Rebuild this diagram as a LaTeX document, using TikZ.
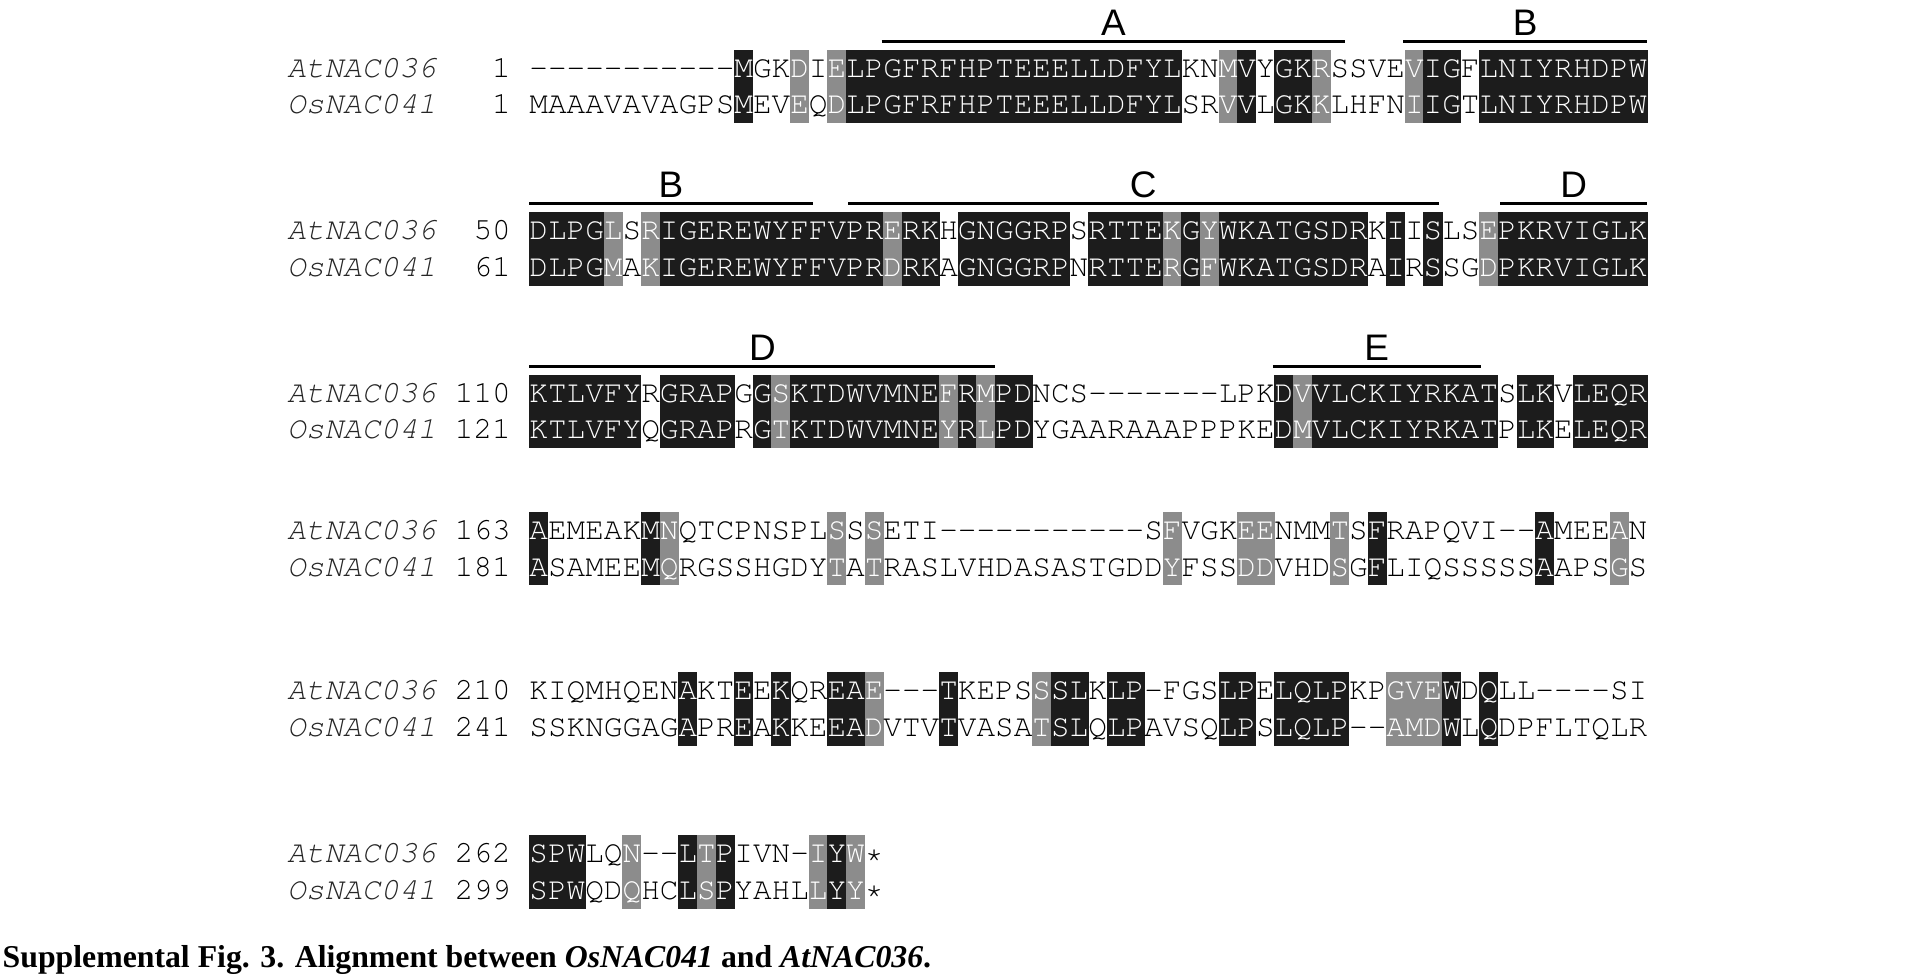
\documentclass[tikz,border=0pt]{standalone}
\usepackage[T1]{fontenc}
\usepackage{fontspec}
\newfontfamily\letterfont{Liberation Sans}
\newfontfamily\captionfont{Liberation Serif}
\newcommand\courierfont{\fontencoding{T1}\fontfamily{pcr}\fontseries{m}\fontshape{n}\fontsize{25.2}{25.2}\selectfont}
\newcommand\courieritfont{\fontencoding{T1}\fontfamily{pcr}\fontseries{m}\fontshape{sl}\fontsize{25.2}{25.2}\selectfont}
\definecolor{boxblack}{HTML}{1C1C1C}
\definecolor{boxgray}{HTML}{8C8C8C}
\tikzset{
  res/.style={inner sep=0pt, anchor=base, font=\courierfont},
  seqname/.style={inner sep=0pt, anchor=base, font=\courieritfont, text=black!85},
  blackbox/.style={fill=boxblack},
  graybox/.style={fill=boxgray},
  regionbar/.style={line width=2.4pt, black},
  regionlabel/.style={inner sep=0pt, anchor=base, font=\letterfont\fontsize{30}{30}\selectfont},
  captiontext/.style={inner sep=0pt, anchor=base west, font=\captionfont\bfseries\fontsize{25.8}{25.8}\selectfont},
}
\newcount\ci
\newcount\blk
\def\cw{15.13}
\def\xseq{430}
\def\xname{233.31}
% residues with colour from the shading string
\def\seqtext#1#2#3#4#5{\def\stP{#1}\def\stX{#2}\def\stY{#3}\ci=0 \seqtextloop#4\sqend#5\sqend}
\def\seqtextloop#1#2\sqend#3#4\sqend{%
  \if#3.\def\stC{black}\else\def\stC{white}\fi
  \node[res,text=\stC] (\stP-\the\ci) at ({\stX+(\the\ci+0.5)*\cw},\stY) {#1};%
  \advance\ci by 1
  \ifx\relax#2\relax\else\seqtextloop#2\sqend#4\sqend\fi}
% plain strings (names, numbers); ! = empty column
\def\plaintext#1#2#3#4#5{\tikzset{plainsty/.style={#2}}\def\ptP{#1}\def\ptX{#3}\def\ptY{#4}\ci=0 \plainloop#5\sqend}
\def\plainloop#1#2\sqend{%
  \if#1!\else\node[plainsty] (\ptP-\the\ci) at ({\ptX+(\the\ci+0.5)*\cw},\ptY) {#1};\fi
  \advance\ci by 1
  \ifx\relax#2\relax\else\plainloop#2\sqend\fi}
% shading boxes
\def\shadebox#1#2#3#4{\def\sbX{#1}\def\sbT{#2}\def\sbB{#3}\ci=0 \boxloop#4\sqend}
\def\boxloop#1#2\sqend{%
  \if#1b\fill[blackbox] ({\sbX+\the\ci*\cw-0.2},\sbT) rectangle ({\sbX+(\the\ci+1)*\cw+0.2},\sbB);\fi
  \if#1g\fill[graybox] ({\sbX+\the\ci*\cw-0.2},\sbT) rectangle ({\sbX+(\the\ci+1)*\cw+0.2},\sbB);\fi
  \advance\ci by 1
  \ifx\relax#2\relax\else\boxloop#2\sqend\fi}
% one alignment block: #1 centre of At row, #2 At number, #3 Os number, #4 At, #5 Os, #6 shading
\newcommand\alnblock[6]{%
  \global\advance\blk by 1
  \pgfmathsetmacro\bTop{#1-15}%
  \pgfmathsetmacro\bBot{#1+44.5}%
  \pgfmathsetmacro\baseA{#1+7.3}%
  \pgfmathsetmacro\baseO{#1+36.8}%
  \shadebox{\xseq}{\bTop}{\bBot}{#6}%
  \seqtext{At\the\blk}{\xseq}{\baseA}{#4}{#6}%
  \seqtext{Os\the\blk}{\xseq}{\baseO}{#5}{#6}%
  \plaintext{AtName\the\blk}{seqname}{\xname}{\baseA}{AtNAC036}%
  \plaintext{OsName\the\blk}{seqname}{\xname}{\baseO}{OsNAC041}%
  \plaintext{AtNum\the\blk}{res}{\xname+9*\cw}{\baseA}{#2}%
  \plaintext{OsNum\the\blk}{res}{\xname+9*\cw}{\baseO}{#3}%
}
% region bar: #1 name, #2 letter, #3 first column, #4 last column, #5 centre of At row
\newcommand\region[5]{%
  \coordinate (#1-l) at ({\xseq+#3*\cw},{#5-22});
  \coordinate (#1-r) at ({\xseq+#4*\cw},{#5-22});
  \draw[regionbar] (#1-l) -- (#1-r);
  \node[regionlabel] (#1-lab) at ({\xseq+(#3+#4)/2*\cw},{#5-27}) {#2};
}
\begin{document}
\begin{tikzpicture}[x=1pt,y=-1pt]
\fill[white] (0,0) rectangle (1565,794.3);
\useasboundingbox (0,0) rectangle (1565,794.3);

\alnblock{55.5}{!!1}{!!1}
 {---------- -MGKDIELPG FRFHPTEEEL LDFYLKNMVY GKRSSVEVIG FLNIYRHDPW}
 {MAAAVAVAGP SMEVEQDLPG FRFHPTEEEL LDFYLSRVVL GKKLHFNIIG TLNIYRHDPW}
 {.......... .b..g.gbbb bbbbbbbbbb bbbbb..gb. bbg....gbb .bbbbbbbbb}
\region{rA}{A}{18.9}{43.8}{55.5}
\region{rB1}{B}{46.9}{60}{55.5}

\alnblock{187.5}{!50}{!61}
 {DLPGLSRIGE REWYFFVPRE RKHGNGGRPS RTTEKGYWKA TGSDRKIISL SEPKRVIGLK}
 {DLPGMAKIGE REWYFFVPRD RKAGNGGRPN RTTERGFWKA TGSDRAIRSS GDPKRVIGLK}
 {bbbbg.gbbb bbbbbbbbbg bb.bbbbbb. bbbbgbgbbb bbbbb.b.b. .gbbbbbbbb}
\region{rB2}{B}{0}{15.2}{187.5}
\region{rC}{C}{17.1}{48.8}{187.5}
\region{rD1}{D}{52.1}{60}{187.5}

\alnblock{319.5}{110}{121}
 {KTLVFYRGRA PGGSKTDWVM NEFRMPDNCS -------LPK DVVLCKIYRK ATSLKVLEQR}
 {KTLVFYQGRA PRGTKTDWVM NEYRLPDYGA ARAAAPPPKE DMVLCKIYRK ATPLKELEQR}
 {bbbbbb.bbb b.bgbbbbbb bbgbgbb... .......... bgbbbbbbbb bb.bb.bbbb}
\region{rD2}{D}{0}{25}{319.5}
\region{rE}{E}{39.9}{51.05}{319.5}

\alnblock{431}{163}{181}
 {AEMEAKMNQT CPNSPLSSSE TI-------- ---SFVGKEE NMMTSFRAPQ VI--AMEEAN}
 {ASAMEEMQRG SSHGDYTATR ASLVHDASAS TGDDYFSSDD VHDSGFLIQS SSSSAAPSGS}
 {b.....bg.. ......g.g. .......... ....g...gg ...g.b.... ....b...g.}

\alnblock{561}{210}{241}
 {KIQMHQENAK TEEKQREAE- --TKEPSSSL KLP-FGSLPE LQLPKPGVEW DQLL----SI}
 {SSKNGGAGAP REAKKEEADV TVTVASATSL QLPAVSQLPS LQLP--AMDW LQDPFLTQLR}
 {........b. .b.b..bbg. ..b....gbb .bb....bb. bbbb..gggb .b........}

\alnblock{693.5}{262}{299}
 {SPWLQN--LT PIVN-IYW*}
 {SPWQDQHCLS PYAHLLYY*}
 {bbb..g..bg b....gbg.}

\node[captiontext] (caption) at (2,786) {Supplemental Fig. 3. Alignment between \textit{OsNAC041} and \textit{AtNAC036}.};
\end{tikzpicture}
\end{document}
